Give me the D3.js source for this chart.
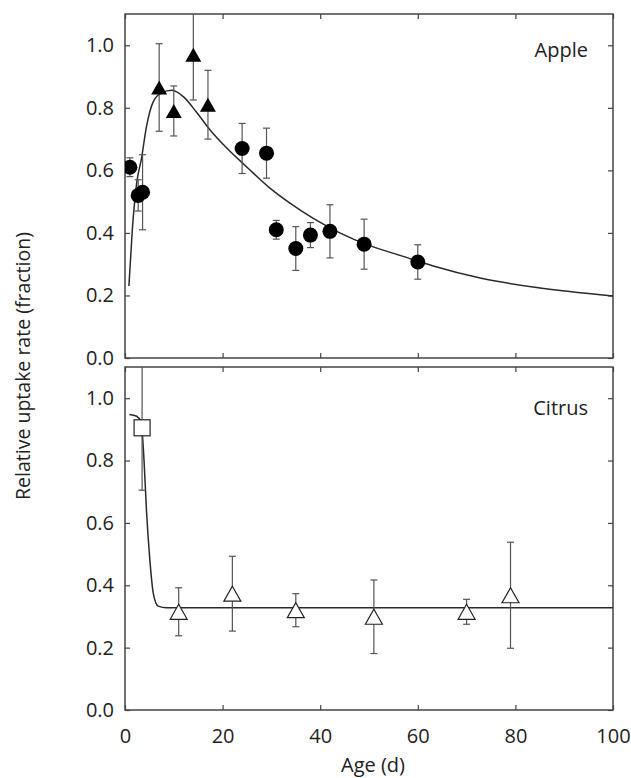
<!DOCTYPE html>
<html>
<head>
<meta charset="utf-8">
<script src="https://cdn.jsdelivr.net/npm/d3@7"></script>
<style>
  body { margin: 0; background: #fff; }
  svg text { font-family: "Open Sans", sans-serif; fill: #222; }
</style>
</head>
<body>
<div id="chart"></div>
<script>
// ---- values ----
const ageTicks  = [0, 20, 40, 60, 80, 100];
const rateTicks = [0, 0.2, 0.4, 0.6, 0.8, 1.0];

// Apple: filled circles
const appleCircleAge  = [1, 2.7, 3.6, 24, 29, 31, 35, 38, 42, 49, 60];
const appleCircleRate = [0.61, 0.52, 0.53, 0.67, 0.655, 0.41, 0.35, 0.393, 0.405, 0.364, 0.307];
const appleCircleErr  = [0.03, 0.05, 0.12, 0.08, 0.08, 0.03, 0.07, 0.04, 0.085, 0.08, 0.055];

// Apple: filled triangles
const appleTriAge  = [7, 10, 14, 17];
const appleTriRate = [0.865, 0.79, 0.97, 0.81];
const appleTriErr  = [0.14, 0.08, 0.145, 0.11];

// Apple: fitted curve (traced)
const appleCurveAge  = [0.8, 1.5, 2.4, 3.4, 4.4, 5.8, 7.5, 9.6, 12, 14.7, 17.4, 20.8, 25, 29.7, 33.8, 38.5, 44, 50, 57, 63, 73, 84, 100];
const appleCurveRate = [0.23, 0.41, 0.56, 0.64, 0.74, 0.82, 0.848, 0.856, 0.835, 0.785, 0.73, 0.672, 0.61, 0.543, 0.495, 0.447, 0.40, 0.36, 0.325, 0.295, 0.255, 0.226, 0.198];

// Citrus: open square
const citrusSqAge  = [3.5];
const citrusSqRate = [0.905];
const citrusSqErr  = [0.2];

// Citrus: open triangles
const citrusTriAge  = [11, 22, 35, 51, 70, 79];
const citrusTriRate = [0.315, 0.373, 0.32, 0.299, 0.315, 0.368];
const citrusTriErr  = [0.077, 0.12, 0.053, 0.118, 0.04, 0.17];

// Citrus: fitted curve (traced)
const citrusCurveAge  = [0.9, 2.4, 3.2, 3.6, 3.9, 4.4, 5.1, 5.8, 6.8, 8.5, 12, 100];
const citrusCurveRate = [0.948, 0.942, 0.925, 0.875, 0.80, 0.64, 0.48, 0.374, 0.333, 0.328, 0.328, 0.328];

// ---- layout ----
const width = 631, height = 778;
const left = 125, right = 613;
const frameColor = "#444";
const fontSize = 20;

const svg = d3.select("#chart")
    .append("svg")
        .attr("width", width)
        .attr("height", height);

svg.append("rect").attr("width", width).attr("height", height).attr("fill", "#fff");

const x = d3.scaleLinear()
    .domain([0, 100])
    .range([left, right]);

const zip = (a, b, c) => a.map((v, i) => ({age: v, rate: b[i], err: c ? c[i] : 0}));

const panels = [
    {
        name: "Apple", top: 14, bottom: 358, labelY: 57,
        curve: zip(appleCurveAge, appleCurveRate),
        circles: zip(appleCircleAge, appleCircleRate, appleCircleErr),
        filledTri: zip(appleTriAge, appleTriRate, appleTriErr),
        openTri: [], squares: []
    },
    {
        name: "Citrus", top: 367, bottom: 710, labelY: 415,
        curve: zip(citrusCurveAge, citrusCurveRate),
        circles: [], filledTri: [],
        openTri: zip(citrusTriAge, citrusTriRate, citrusTriErr),
        squares: zip(citrusSqAge, citrusSqRate, citrusSqErr)
    }
];

// triangle path centred on its bounding box
function triPath(w, h) {
    return `M0,${-h / 2}L${w / 2},${h / 2}L${-w / 2},${h / 2}Z`;
}

function styleAxis(g) {
    g.select(".domain").remove();
    g.selectAll(".tick line").attr("stroke", frameColor).attr("stroke-width", 1.2);
    g.selectAll(".tick text")
        .attr("font-size", fontSize)
        .attr("font-family", "Open Sans, sans-serif")
        .attr("fill", "#222");
}

panels.forEach((p, pi) => {
    const y = d3.scaleLinear()
        .domain([0, 1.1])
        .range([p.bottom, p.top]);

    const clipId = "clip" + pi;
    svg.append("clipPath").attr("id", clipId)
        .append("rect")
            .attr("x", left).attr("y", p.top)
            .attr("width", right - left).attr("height", p.bottom - p.top);

    // axes, ticks pointing inward
    svg.append("g")
        .attr("transform", `translate(${left},0)`)
        .call(d3.axisLeft(y).tickValues(rateTicks).tickSize(-5).tickPadding(11).tickFormat(d3.format(".1f")))
        .call(styleAxis);

    svg.append("g")
        .attr("transform", `translate(${right},0)`)
        .call(d3.axisRight(y).tickValues(rateTicks).tickSize(-5).tickFormat(""))
        .call(styleAxis);

    svg.append("g")
        .attr("transform", `translate(0,${p.top})`)
        .call(d3.axisTop(x).tickValues(ageTicks).tickSize(-5).tickFormat(""))
        .call(styleAxis);

    const bottomAxis = d3.axisBottom(x).tickValues(ageTicks).tickSize(-5).tickPadding(19);
    if (pi === 0) bottomAxis.tickFormat("");
    svg.append("g")
        .attr("transform", `translate(0,${p.bottom})`)
        .call(bottomAxis)
        .call(styleAxis);

    // frame
    svg.append("rect")
        .attr("x", left).attr("y", p.top)
        .attr("width", right - left).attr("height", p.bottom - p.top)
        .attr("fill", "none")
        .attr("stroke", frameColor)
        .attr("stroke-width", 1.5);

    const plot = svg.append("g").attr("clip-path", `url(#${clipId})`);

    // fitted curve
    plot.append("path")
        .datum(p.curve)
        .attr("fill", "none")
        .attr("stroke", "#2a2a2a")
        .attr("stroke-width", 1.5)
        .attr("d", d3.line()
            .x(d => x(d.age))
            .y(d => y(d.rate))
            .curve(d3.curveMonotoneX));

    // error bars
    const allPts = [].concat(p.circles, p.filledTri, p.openTri, p.squares);
    const bars = plot.append("g")
        .attr("stroke", "#555")
        .attr("stroke-width", 1.2);
    allPts.forEach(d => {
        const cx = x(d.age), y1 = y(d.rate + d.err), y2 = y(d.rate - d.err);
        bars.append("line").attr("x1", cx).attr("x2", cx).attr("y1", y1).attr("y2", y2);
        bars.append("line").attr("x1", cx - 3.5).attr("x2", cx + 3.5).attr("y1", y1).attr("y2", y1);
        bars.append("line").attr("x1", cx - 3.5).attr("x2", cx + 3.5).attr("y1", y2).attr("y2", y2);
    });

    // markers
    plot.selectAll(".circ")
        .data(p.circles)
        .join("circle")
            .attr("cx", d => x(d.age))
            .attr("cy", d => y(d.rate))
            .attr("r", 7.5)
            .attr("fill", "#000");

    plot.selectAll(".ftri")
        .data(p.filledTri)
        .join("path")
            .attr("d", triPath(16, 14))
            .attr("transform", d => `translate(${x(d.age)},${y(d.rate)})`)
            .attr("fill", "#000");

    plot.selectAll(".otri")
        .data(p.openTri)
        .join("path")
            .attr("d", triPath(17, 15))
            .attr("transform", d => `translate(${x(d.age)},${y(d.rate)})`)
            .attr("fill", "#fff")
            .attr("stroke", "#222")
            .attr("stroke-width", 1.2);

    plot.selectAll(".sq")
        .data(p.squares)
        .join("rect")
            .attr("x", d => x(d.age) - 8)
            .attr("y", d => y(d.rate) - 8)
            .attr("width", 16)
            .attr("height", 16)
            .attr("fill", "#fff")
            .attr("stroke", "#222")
            .attr("stroke-width", 1.2);

    // panel label
    svg.append("text")
        .attr("x", 588)
        .attr("y", p.labelY)
        .attr("text-anchor", "end")
        .attr("font-size", fontSize)
        .text(p.name);
});

// axis titles
svg.append("text")
    .attr("x", 373)
    .attr("y", 772)
    .attr("text-anchor", "middle")
    .attr("font-size", fontSize)
    .text("Age (d)");

svg.append("text")
    .attr("transform", "translate(30,366) rotate(-90)")
    .attr("text-anchor", "middle")
    .attr("font-size", 19.5)
    .text("Relative uptake rate (fraction)");
</script>
</body>
</html>
